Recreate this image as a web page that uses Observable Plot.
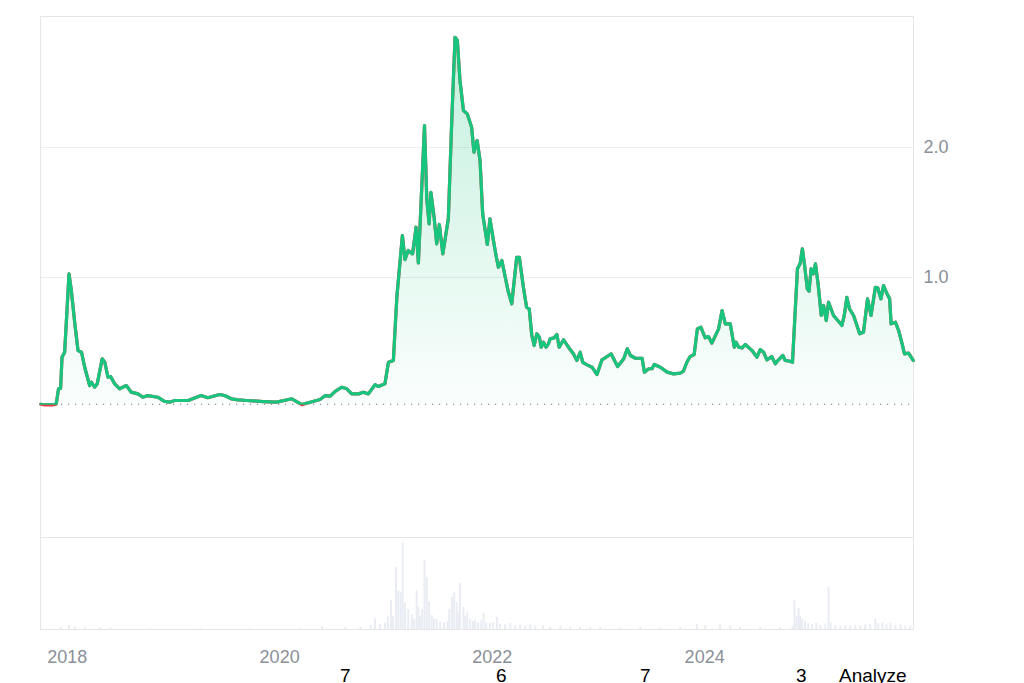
<!DOCTYPE html>
<html>
<head>
<meta charset="utf-8">
<script src="https://cdn.jsdelivr.net/npm/d3@7"></script>
<script src="https://cdn.jsdelivr.net/npm/@observablehq/plot@0.6"></script>
<style>
  body { margin: 0; background: #fff; }
  #wrap { position: relative; width: 1024px; height: 683px; overflow: hidden; font-family: "Liberation Sans", Arial, sans-serif; }
  #price, #volume { position: absolute; left: 0; }
  #price { top: 0; }
  #volume { top: 537px; }
  .foot { position: absolute; top: 668.5px; font-size: 19px; line-height: 14px; height: 14px; color: #000; white-space: nowrap; }
</style>
</head>
<body>
<div id="wrap">
  <div id="price"></div>
  <div id="volume"></div>
  <span class="foot" style="left:340px">7</span>
  <span class="foot" style="left:496px">6</span>
  <span class="foot" style="left:640px">7</span>
  <span class="foot" style="left:796px">3</span>
  <span class="foot" style="left:839px">Analyze</span>
</div>
<script>
const priceDates = [
"2017-10-02","2017-10-12","2017-10-26","2017-11-10","2017-11-24","2017-12-02","2017-12-09","2017-12-14","2017-12-23",
"2018-01-07","2018-01-15","2018-01-27","2018-02-07","2018-02-19","2018-03-02","2018-03-19","2018-03-25","2018-04-05","2018-04-14",
"2018-05-01","2018-05-10","2018-05-21","2018-05-30","2018-06-13","2018-06-30","2018-07-23","2018-08-09","2018-09-01","2018-09-18",
"2018-10-05","2018-11-08","2018-12-01","2018-12-18","2019-01-06","2019-02-21","2019-04-06","2019-04-29","2019-06-09","2019-06-26",
"2019-07-19","2019-08-11","2019-09-10","2019-11-06","2019-12-22","2020-02-12","2020-03-17","2020-04-15","2020-05-19","2020-06-06",
"2020-06-23","2020-07-10","2020-08-02","2020-08-19","2020-09-05","2020-09-28","2020-10-15","2020-11-01","2020-11-24","2020-12-05",
"2020-12-28","2021-01-09","2021-01-26","2021-02-07","2021-02-26","2021-03-07","2021-03-18","2021-04-02","2021-04-14","2021-04-22",
"2021-04-29","2021-05-13","2021-05-21","2021-05-29","2021-06-04","2021-06-15","2021-06-24","2021-07-03","2021-07-15","2021-08-03",
"2021-08-15","2021-08-26","2021-09-03","2021-09-12","2021-09-24","2021-10-07","2021-10-22","2021-10-30","2021-11-10","2021-11-20",
"2021-11-29","2021-12-15","2021-12-24","2022-01-05","2022-01-14","2022-01-22","2022-02-03","2022-02-24","2022-03-09","2022-03-26",
"2022-04-04","2022-04-18","2022-04-29","2022-05-08","2022-05-17","2022-05-25","2022-06-03","2022-06-12","2022-06-18","2022-06-26",
"2022-07-05","2022-07-13","2022-07-19","2022-08-02","2022-08-11","2022-08-19","2022-09-03","2022-09-20","2022-10-07","2022-10-19",
"2022-10-30","2022-11-08","2022-11-23","2022-12-10","2022-12-27","2023-01-13","2023-02-05","2023-02-14","2023-02-22","2023-03-08",
"2023-03-29","2023-04-10","2023-04-21","2023-05-08","2023-05-31","2023-06-08","2023-06-23","2023-07-04","2023-07-12","2023-08-02",
"2023-08-25","2023-09-16","2023-10-09","2023-10-20","2023-11-01","2023-11-12","2023-11-26","2023-12-07","2023-12-19","2024-01-03",
"2024-01-14","2024-01-26","2024-02-18","2024-03-01","2024-03-12","2024-03-29","2024-04-12","2024-04-18","2024-04-27","2024-05-09",
"2024-05-20","2024-06-12","2024-06-29","2024-07-10","2024-07-22","2024-08-02","2024-08-19","2024-08-31","2024-09-11","2024-09-26",
"2024-10-04","2024-10-21","2024-10-29","2024-11-15","2024-11-24","2024-12-02","2024-12-09","2024-12-19","2024-12-25","2025-01-01",
"2025-01-08","2025-01-16","2025-01-25","2025-02-05","2025-02-13","2025-02-22","2025-03-02","2025-03-19","2025-04-05","2025-04-17",
"2025-04-25","2025-05-04","2025-05-13","2025-05-27","2025-06-17","2025-06-30","2025-07-14","2025-07-26","2025-08-10","2025-08-18",
"2025-08-29","2025-09-07","2025-09-19","2025-09-28","2025-10-03","2025-10-18","2025-10-29","2025-11-10","2025-11-18","2025-12-02",
"2025-12-18"
];
const priceValues = [
0.025,0.021,0.022,0.020,0.026,0.144,0.146,0.387,0.425,
1.028,0.900,0.646,0.438,0.425,0.310,0.169,0.195,0.156,0.182,
0.375,0.348,0.233,0.238,0.182,0.144,0.169,0.118,0.105,0.079,
0.092,0.079,0.048,0.041,0.054,0.054,0.092,0.075,0.100,0.092,
0.067,0.059,0.054,0.046,0.041,0.067,0.022,0.041,0.062,0.092,
0.087,0.125,0.156,0.144,0.105,0.105,0.118,0.105,0.175,0.162,
0.182,0.348,0.362,0.850,1.323,1.138,1.208,1.182,1.387,1.112,
1.464,2.169,1.600,1.413,1.656,1.464,1.259,1.408,1.182,1.454,
2.223,2.848,2.823,2.515,2.285,2.259,2.156,1.964,2.054,1.900,
1.490,1.254,1.452,1.285,1.169,1.079,1.131,0.900,0.798,1.156,
1.156,0.925,0.772,0.759,0.554,0.477,0.567,0.541,0.464,0.502,
0.464,0.490,0.528,0.536,0.562,0.464,0.521,0.464,0.413,0.362,
0.425,0.348,0.328,0.310,0.254,0.367,0.400,0.413,0.375,0.315,
0.375,0.452,0.400,0.379,0.379,0.272,0.298,0.298,0.331,0.310,
0.272,0.259,0.264,0.279,0.348,0.392,0.408,0.605,0.618,0.536,
0.546,0.495,0.605,0.746,0.644,0.644,0.464,0.502,0.464,0.459,
0.485,0.438,0.387,0.446,0.425,0.367,0.392,0.336,0.367,0.400,
0.362,0.356,0.348,1.067,1.105,1.221,1.105,0.913,0.895,1.067,
1.028,1.105,0.952,0.708,0.785,0.669,0.810,0.708,0.664,0.631,
0.708,0.848,0.759,0.708,0.567,0.579,0.836,0.708,0.925,0.921,
0.836,0.938,0.875,0.836,0.644,0.656,0.592,0.490,0.413,0.418,
0.362
];
const volumeDates = [
"2017-12-09","2018-01-07","2018-01-27","2018-03-02","2018-04-25","2018-05-30","2018-10-12","2019-04-03","2019-09-20","2020-03-12",
"2020-05-26","2020-08-14","2020-10-05","2020-11-09","2020-11-24","2020-12-11","2020-12-28","2021-01-07","2021-01-18","2021-01-25",
"2021-02-04","2021-02-12","2021-02-20","2021-02-27","2021-03-07","2021-03-18","2021-03-30","2021-04-07","2021-04-16","2021-04-22",
"2021-04-28","2021-05-05","2021-05-13","2021-05-21","2021-05-29","2021-06-07","2021-06-15","2021-06-24","2021-07-06","2021-07-19",
"2021-07-31","2021-08-06","2021-08-15","2021-08-23","2021-09-01","2021-09-06","2021-09-12","2021-09-24","2021-09-30","2021-10-07",
"2021-10-17","2021-10-27","2021-11-03","2021-11-13","2021-11-24","2021-12-02","2021-12-11","2021-12-24","2022-01-04","2022-01-17",
"2022-01-28","2022-02-14","2022-03-04","2022-03-21","2022-04-07","2022-04-24","2022-05-11","2022-05-29","2022-06-25","2022-07-19",
"2022-08-23","2022-09-26","2022-10-30","2022-12-04","2023-01-07","2023-03-17","2023-05-25","2023-08-02","2023-10-09","2023-12-06",
"2024-01-03","2024-02-23","2024-03-29","2024-05-02","2024-07-10","2024-09-17","2024-10-29","2024-11-05","2024-11-12","2024-11-19",
"2024-11-24","2024-12-01","2024-12-11","2024-12-22","2025-01-05","2025-01-19","2025-02-02","2025-02-19","2025-03-02","2025-03-09",
"2025-03-26","2025-04-12","2025-04-29","2025-05-16","2025-06-02","2025-06-19","2025-07-06","2025-07-23","2025-08-10","2025-08-20",
"2025-09-03","2025-09-17","2025-10-01","2025-10-18","2025-11-04","2025-11-21","2025-12-08"
];
const volumeValues = [
0.3,0.6,0.45,0.3,0.3,0.2,0.1,0.15,0.1,0.15,
0.45,0.3,0.4,0.6,1.6,0.8,1.0,1.9,4.4,2.0,
9.3,5.8,5.5,12.9,4.0,3.0,2.2,1.5,5.8,3.3,
2.0,3.0,10.3,7.8,4.2,2.1,1.6,1.5,1.1,1.0,
1.2,3.0,4.8,5.5,4.0,2.5,6.9,3.3,2.0,2.5,
1.5,1.2,1.4,1.0,1.3,2.4,1.0,0.9,1.0,1.8,
0.8,0.7,0.9,0.6,0.7,0.5,0.7,0.5,0.6,0.4,
0.5,0.4,0.3,0.3,0.3,0.25,0.3,0.25,0.3,0.8,
0.6,0.7,0.5,0.3,0.3,0.3,0.5,4.4,2.0,3.2,
2.0,1.5,1.2,0.9,0.7,0.9,0.6,0.8,6.3,1.0,
0.6,0.5,0.6,0.5,0.6,0.5,0.7,0.8,1.6,0.9,
1.0,0.7,0.9,0.6,0.7,0.5,0.5
];
const priceTicks = [1, 2];
const basePrice = 0.025;
const xStart = "2017-10-01", xEnd = "2025-12-19";

const parse = d3.utcParse("%Y-%m-%d");
const prices = priceDates.map((d, i) => ({date: parse(d), price: priceValues[i]}));
const volumes = volumeDates.map((d, i) => ({date: parse(d), volume: volumeValues[i]}));
const xDomain = [parse(xStart), parse(xEnd)];

const font = '"Liberation Sans", Arial, sans-serif';
const green = "#18c57e";

const pricePlot = Plot.plot({
  width: 1024, height: 537,
  marginTop: 16, marginBottom: 0, marginLeft: 40, marginRight: 111,
  style: {fontSize: "18px", fontFamily: font, color: "#8b8f98", background: "#fff"},
  x: {type: "utc", domain: xDomain, axis: null},
  y: {domain: [-1, 3.008], axis: "right", ticks: priceTicks, tickFormat: d3.format(".1f"), tickSize: 0, tickPadding: 10, label: null},
  marks: [
    Plot.ruleY(priceTicks, {stroke: "#eeeeee", strokeWidth: 1}),
    Plot.frame({stroke: "#e6e6e6"}),
    Plot.areaY(prices, {x: "date", y1: basePrice, y2: "price", fill: "url(#priceFill)"}),
    Plot.ruleY([basePrice], {stroke: "#777", strokeWidth: 1.2, strokeDasharray: "1.2,5.8"}),
    Plot.lineY(prices, {x: "date", y: "price", stroke: "#ea3943", strokeWidth: 3.2, strokeLinejoin: "round"}),
    Plot.lineY(prices, {x: "date", y: "price", stroke: green, strokeWidth: 3.2, strokeLinejoin: "round"})
  ]
});

// gradient + clip for the green line above the starting price
const ns = "http://www.w3.org/2000/svg";
const svgEl = pricePlot.tagName.toLowerCase() === "svg" ? pricePlot : pricePlot.querySelector("svg");
let basePx;
try { basePx = pricePlot.scale("y").apply(basePrice); } catch (e) { basePx = 16 + (3.008 - basePrice) / 4.008 * 521; }
const defs = document.createElementNS(ns, "defs");
defs.innerHTML = `
  <linearGradient id="priceFill" x1="0" y1="0" x2="0" y2="1">
    <stop offset="0" stop-color="${green}" stop-opacity="0.26"/>
    <stop offset="1" stop-color="${green}" stop-opacity="0.02"/>
  </linearGradient>
  <clipPath id="aboveBase"><rect x="0" y="0" width="1024" height="${basePx + 0.5}"/></clipPath>`;
svgEl.insertBefore(defs, svgEl.firstChild);
const lines = svgEl.querySelectorAll('g[aria-label="line"]');
if (lines.length) lines[lines.length - 1].setAttribute("clip-path", "url(#aboveBase)");
document.getElementById("price").appendChild(pricePlot);

const volumePlot = Plot.plot({
  width: 1024, height: 146,
  marginTop: 0, marginBottom: 54, marginLeft: 40, marginRight: 111,
  style: {fontSize: "18px", fontFamily: font, color: "#8b8f98", background: "transparent"},
  x: {type: "utc", domain: xDomain, ticks: d3.utcYear.every(2), tickFormat: d3.utcFormat("%Y"), tickSize: 0, tickPadding: 21, label: null},
  y: {domain: [0, 13.8], axis: null},
  marks: [
    Plot.ruleX(volumes, {x: "date", y1: 0, y2: "volume", stroke: "#e9edf3", strokeWidth: 2}),
    Plot.frame({stroke: "#e6e6e6"})
  ]
});
document.getElementById("volume").appendChild(volumePlot);
</script>
</body>
</html>
